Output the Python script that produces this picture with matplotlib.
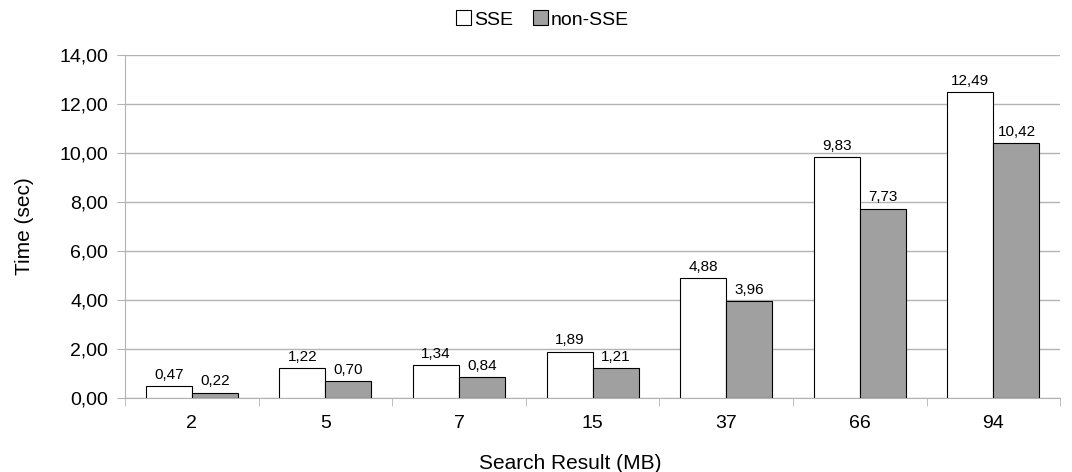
import matplotlib.pyplot as plt
import numpy as np

plt.rcParams['font.family'] = ['Liberation Sans', 'DejaVu Sans']

categories = ['2', '5', '7', '15', '37', '66', '94']
sse = [0.47, 1.22, 1.34, 1.89, 4.88, 9.83, 12.49]
non_sse = [0.22, 0.70, 0.84, 1.21, 3.96, 7.73, 10.42]


def fmt(v):
    return f'{v:.2f}'.replace('.', ',')


def main():
    fig = plt.figure(figsize=(10.72, 4.72), dpi=100)
    ax = fig.add_axes([0.1166, 0.157, 0.8724, 0.7265])

    x = np.arange(len(categories))
    w = 0.345
    b1 = ax.bar(x - w / 2, sse, w, color='white', edgecolor='black', linewidth=0.8, label='SSE', zorder=3)
    b2 = ax.bar(x + w / 2, non_sse, w, color='#a0a0a0', edgecolor='black', linewidth=0.8, label='non-SSE', zorder=3)

    for bars, vals in ((b1, sse), (b2, non_sse)):
        ax.bar_label(bars, labels=[fmt(v) for v in vals], padding=3, fontsize=11)

    ax.set_xlim(-0.5, len(categories) - 0.5)
    ax.set_ylim(0, 14)
    ax.set_yticks(np.arange(0, 15, 2))
    ax.set_yticklabels([fmt(v) for v in np.arange(0, 15, 2)], fontsize=14)
    ax.set_xticks(x)
    ax.set_xticklabels(categories, fontsize=14)
    ax.tick_params(axis='x', length=0, pad=12)
    ax.set_xticks(np.arange(-0.5, len(categories), 1), minor=True)
    ax.tick_params(axis='x', which='minor', length=6, color='#b3b3b3')
    ax.tick_params(axis='y', length=6, color='#b3b3b3', pad=6)

    ax.grid(axis='y', color='#b3b3b3', linewidth=1, zorder=0)
    for s in ('top', 'right'):
        ax.spines[s].set_visible(False)
    for s in ('left', 'bottom'):
        ax.spines[s].set_color('#b3b3b3')

    ax.set_ylabel('Time (sec)', fontsize=15, labelpad=18)
    ax.set_xlabel('Search Result (MB)', fontsize=15)
    ax.xaxis.set_label_coords(0.476, -0.165)

    fig.legend(loc='upper center', bbox_to_anchor=(0.506, 1.015), ncol=2, frameon=False,
               fontsize=14, handlelength=0.8, handleheight=0.8, handletextpad=0.15, columnspacing=1.0)

    plt.savefig('out.png')


if __name__ == '__main__':
    main()
